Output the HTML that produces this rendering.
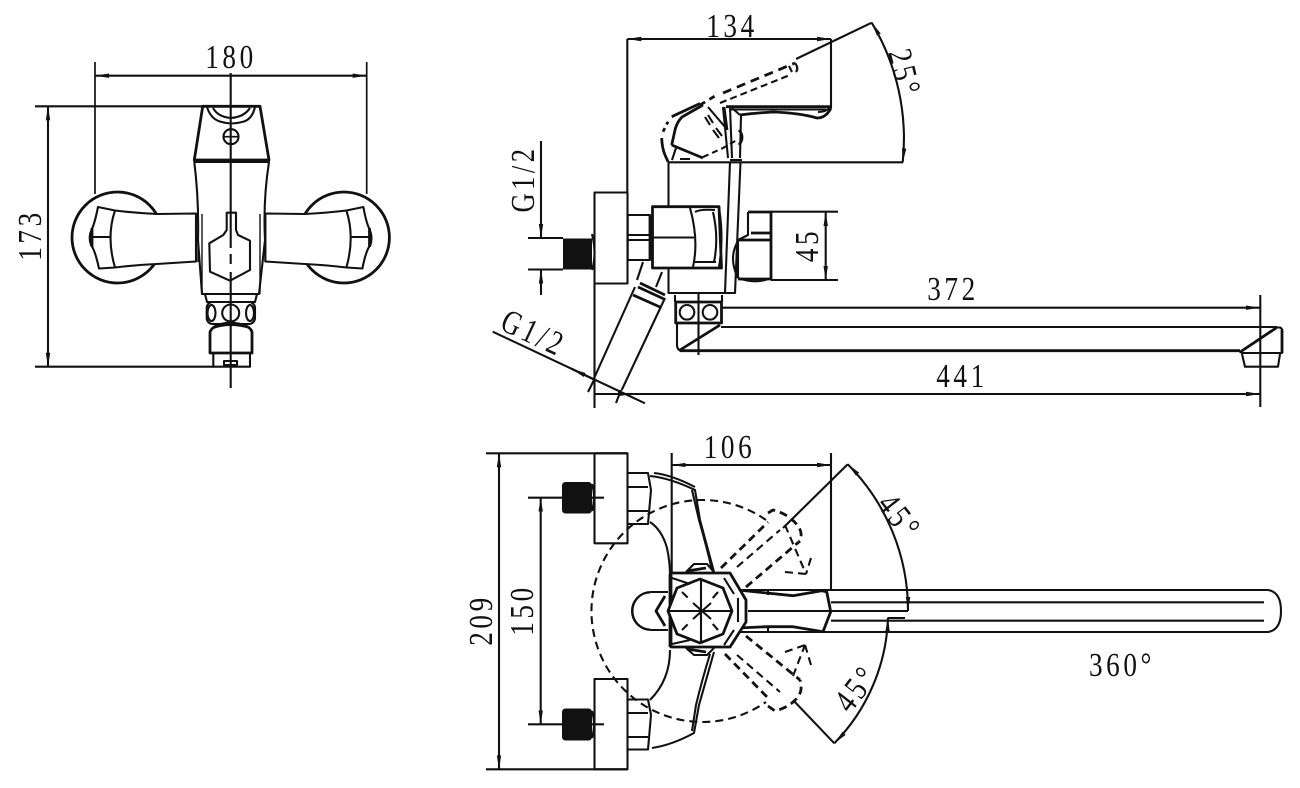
<!DOCTYPE html>
<html><head><meta charset="utf-8"><style>
html,body{margin:0;padding:0;background:#fff;width:1300px;height:788px;overflow:hidden}
svg{display:block}
text{font-family:"Liberation Serif",serif;font-size:34px;fill:#111;stroke:none;text-anchor:middle;letter-spacing:4.5px}
.t{stroke-width:2.8}.m{stroke-width:2.1}.d{stroke-dasharray:8 5}.w{fill:#fff}
</style></head><body>
<svg width="1300" height="788" viewBox="0 0 1300 788" xmlns="http://www.w3.org/2000/svg">
<defs><marker id="a" markerUnits="userSpaceOnUse" markerWidth="14" markerHeight="6" refX="14" refY="3" orient="auto-start-reverse"><path d="M0,.8 L14,3 L0,5.2z" fill="#111"/></marker></defs>
<rect width="1300" height="788" fill="#fff"/>
<g fill="none" stroke="#111" stroke-width="1.7" stroke-linejoin="round" stroke-linecap="butt">

<!-- TOP LEFT VIEW -->
<circle cx="117.5" cy="237.5" r="45.5" class="t"/>
<circle cx="343.9" cy="237.5" r="45.5" class="t"/>
<path class="m w" d="M98,207 L115,210.5 Q135,213 156.7,214 L196,213.5 L196,261.5 L156.7,264 Q135,265 115,267.5 L99,268.5 Q95,250 91,245 Q88,237 92,229 Q95,222 98,207Z"/>
<path class="m" d="M115,210.5 Q106,237 115,267.5M91,237H110"/>
<path class="t" d="M92,228V247"/>
<path class="m w" d="M363.4,207 L346.4,210.5 Q326,213 304.7,214 L265.4,213.5 L265.4,261.5 L304.7,264 Q326,265 346.4,267.5 L362.4,268.5 Q366,250 370.4,245 Q373,237 369.4,229 Q366,222 363.4,207Z"/>
<path class="m" d="M346.4,210.5 Q355,237 346.4,267.5M370.4,237H351.4"/>
<path class="t" d="M369.5,228V247"/>
<path d="M95,62V194M366.7,62V194"/>
<path class="m" d="M95,75.7H366.7" marker-start="url(#a)" marker-end="url(#a)"/>
<path class="m" d="M35,106.3H203M35,366.7H214"/>
<path class="m" d="M48,106.3V366.7" marker-start="url(#a)" marker-end="url(#a)"/>
<path class="m w" d="M194.3,162 H269 Q263,200 265,240 L259,294 H202 L198,240 Q199,200 194.3,162Z"/>
<path d="M198,214V262M202,214V294M265,214V262M260,214V294" stroke-width="1.4"/>
<path class="t w" d="M202.7,106.3H260L269,160H194.3Z"/>
<path class="m" d="M207,107Q211,120 222,122Q231,125 242,122Q252,120 255,107M213,108Q218,117 231,118Q244,117 250,108"/>
<circle cx="231" cy="136.7" r="7.5" class="m"/><path d="M224,136.7H238"/>
<path class="m w" d="M226.7,212.7H236V230L238,235L250,240.7V270L230,280.7L210,271.7L209.3,243.3L223.3,235L226.7,230Z"/>
<path class="m" d="M205,294H257L255,302H207Z"/>
<rect class="m w" x="206.7" y="302" width="48.3" height="22" rx="6"/>
<ellipse cx="211.5" cy="313" rx="4" ry="8" class="m"/><ellipse cx="250" cy="313" rx="4" ry="8" class="m"/>
<circle cx="230.7" cy="313" r="8.5" class="m w"/>
<path class="t w" d="M210,353V332Q213,324 230,323Q250,324 252,332V353Z"/>
<path class="m" d="M213,328Q230,322 250,328"/>
<path class="m" d="M213.3,353V366.7H250V353"/><rect x="224" y="361" width="13" height="4" class="m"/>
<path class="m" d="M230.7,73V248M230.7,254V264M230.7,272V388"/>

<!-- SIDE VIEW: handle -->
<path class="m" d="M627.3,39V192"/>
<path class="m" d="M627.3,39H831" marker-start="url(#a)" marker-end="url(#a)"/>
<path class="m" d="M831,39V108"/>
<path class="m" d="M871.7,22.7L796,59"/>
<path class="m" d="M871.7,22.7A225,225 0 0 1 902.7,162.3" marker-start="url(#a)" marker-end="url(#a)"/>
<path class="m" d="M668,162.3H903"/>
<!-- lever solid -->
<path class="t" d="M726,106.7H830"/>
<path class="m" d="M730,109.5H826"/>
<path class="t" d="M740,115Q755,113 773,112Q800,113 817,118Q826,118 831,108"/>
<path class="m" d="M732,108L740,115M818,112Q826,112 829,108"/>
<!-- dome -->
<path class="t" d="M671.7,145L675,130Q677,122 682,117L703,105"/>
<path class="t" d="M671.7,145L703,158"/>
<path class="m" d="M676,148L672,160M680,159H690"/>
<path class="t" d="M671.7,116.7L700,103.5"/>
<path class="t" d="M661.7,138Q662,148 665,155L668,161.7"/>
<path class="t" stroke-dasharray="4 4" d="M663,131.7L668,121.7"/>
<path class="t" stroke-dasharray="6 5" d="M700,105L715,96"/>
<!-- raised lever dashes -->
<path class="t" stroke-dasharray="9 6" d="M723,93L795,63"/>
<path class="m" stroke-dasharray="7 4" d="M720,103L790,75"/>
<path class="m" d="M795,63Q799,68 796,72M789,66L792,72"/>
<path class="m" d="M723,107L728,158M708,107L725,127M730,107L732,158M741,115L740,158"/>
<path class="t" d="M724,107L727,130"/>
<path class="t" d="M739,130Q745,137 739,145"/>
<path class="m" d="M705,117L710,125M708,115L713,123M713,130L719,138M716,128L722,136"/>
<path class="m" stroke-dasharray="6 4" d="M703,157L723,148L737,140"/>
<path class="m" d="M730,160H742"/>
<!-- side body -->
<path class="m" d="M668.5,162V293H735L740.5,162M730,162L725,293"/>
<rect class="m w" x="594.5" y="192.5" width="33" height="91"/>
<path class="m" d="M594.5,283V408"/>
<path class="m w" d="M627.7,215H650V260H627.7Z"/>
<path class="m" d="M627.7,235H650M627.7,240H650"/>
<path class="t" d="M650,216V260"/>
<path class="t w" d="M652.5,206.7H719L721.5,268H652.5Z"/>
<path class="m" d="M653,237.5H694M690,208Q699,240 693,267M695,212Q700,209 715,210M695,262H716M713,212Q719,238 714,262M719,208Q724,238 719,267"/>
<rect x="563" y="238.5" width="29" height="31" fill="#111" stroke="none"/>
<path d="M592,234Q597,254 592,270" class="m"/>
<path class="m" d="M528,238H563M528,269.5H563"/>
<path class="m" d="M541,141V238" marker-end="url(#a)"/><path class="m" d="M541,295V269.5" marker-end="url(#a)"/>
<path class="m" d="M748,212V235L738,240"/>
<path class="t" d="M748,212H771V279H738M738,240H770"/>
<path class="t" d="M751,233H770"/>
<path class="m" d="M738,240V278M738,241Q728,258 738,278M738,278Q755,284 768,279"/>
<path class="m" d="M771,211.7H838M771,280H838"/>
<path class="m" d="M825.7,212V280" marker-start="url(#a)" marker-end="url(#a)"/>
<!-- spout -->
<path class="m" d="M675,295L675,302M722,295V302"/>
<path class="t w" d="M675.7,302H721.5V323H675.7Z"/>
<circle cx="687" cy="312.3" r="7.3" class="m"/><circle cx="710" cy="312.3" r="7.3" class="m"/>
<path class="m" d="M698.5,293V355"/>
<path class="m" d="M721,307.7H1260" marker-end="url(#a)"/>
<path class="m" d="M721,327H1277"/>
<path class="t" d="M680,350.7H1240"/>
<path class="m" d="M677,323V346Q678,351 682,351"/>
<path class="t" d="M680,350L720,325"/>
<path class="m" d="M1240,351.7L1277,327.5H1280Q1283,329 1282,332V353H1242ZM1242,354L1245,366.7H1278L1280,354"/>
<path class="t" d="M1241,351.5L1276,328"/><path class="t" d="M1282,330V353"/>
<path class="m" d="M1260.3,295V407"/>
<path class="m" d="M594,394H1260" marker-end="url(#a)"/>
<!-- hose -->
<path class="m" d="M643,262L637,280M662,272L656,287"/>
<path class="m" d="M665,298L621.7,390M635,287L593.3,380"/>
<path class="t" d="M640,283L665,295M638,287L664,299M633,295L660,307"/>
<path class="m" d="M492.7,331.7L645,403.3"/>
<path class="m" d="M594,380L588,392M621,390L616,403"/>
<path class="m" d="M572,369L593,379M594,394H607" marker-start="url(#a)"/>
<path class="m" d="M632,394H618" marker-start="url(#a)"/>

<!-- BOTTOM VIEW -->
<path class="m" d="M486,453.3H627M486,769.3H627"/>
<path class="m" d="M499,453.3V769.3" marker-start="url(#a)" marker-end="url(#a)"/>
<path class="m" d="M528,497.7H604M528,724.3H604"/>
<path class="m" d="M540.7,497.7V724.3" marker-start="url(#a)" marker-end="url(#a)"/>
<rect x="562" y="482" width="30" height="31.5" rx="3.5" fill="#111" stroke="none"/>
<rect x="562" y="708.5" width="30" height="32" rx="3.5" fill="#111" stroke="none"/>
<path class="m" d="M592,484Q596,497 592,511M592,711Q596,724 592,738"/>
<rect class="m" x="594.5" y="453.3" width="33" height="90"/>
<rect class="m" x="594.5" y="679" width="33" height="90.3"/>
<path class="m" d="M628,473H648L651,490L648,524H628M628,487H648M628,511H648M628,699.5H648L651,715L648,749.5H628M628,713H648M628,737H648"/>
<path class="m" d="M671.7,453V575M831,453V590"/>
<path class="m" d="M671.7,465H831" marker-start="url(#a)" marker-end="url(#a)"/>
<path class="m" d="M650,476Q670,478 695,490L700,520Q708,550 714,572M654,473Q672,475 695,487"/>
<path class="m" d="M692,490L699,520Q707,548 712,570"/>
<path class="m" d="M650,522Q662,530 667,548Q670,562 670,575M670,650Q670,680 650,700"/>
<path class="m" d="M714,652Q706,680 699,705L694,733Q672,745 652,748M710,654Q702,680 696,705L692,731"/>
<!-- dashed circle -->
<path class="m d" d="M766,520A111,111 0 0 0 701,500A111,111 0 1 0 766,702"/>
<!-- lever -->
<path class="m" d="M738,590H1268Q1281,592 1281,611Q1281,630 1268,632H738"/>
<path class="m" d="M831,602.3H1264M831,620.7H1264M748,611H908"/>
<path class="t w" d="M738,590L766.7,593L793,595.7L821.7,590.7L826.7,591.7L830.7,611.7L823,631.7L793,626.7L766.7,626.7L738,628"/>
<path class="m" d="M748,611H830"/>
<path class="m" d="M768,590V595M768,627V632"/>
<!-- hub -->
<path class="m w" d="M668,592H651A19,19 0 0 0 651,630H668"/>
<path class="m" d="M650,592.5A17.5,18.5 0 0 0 650,629.5"/>
<path class="t" d="M665,596L656,611L665,626"/>
<path class="t" d="M670,574V647"/>
<path class="t w" d="M671,573H730L746,600V622L730,647H671Z"/>
<path class="m" d="M686,572L694,564H707L714,572M686,648L694,655H707L714,648"/>
<path class="t" d="M687,571L706,568M687,649L706,652"/>
<path class="t w" d="M700,579L723,588L732,611L723,634L700,643L677,634L668,611L677,588Z"/>
<path class="m" d="M672,578L690,584M724,578L734,594M738,598V622M734,630L724,645M672,644L690,640"/>
<path class="m" d="M668,611H732M701,580V643"/>
<path class="m" d="M693,603L711,619M693,619L711,603"/>
<path class="m d" stroke-dasharray="9 5" d="M682,592L690,600M718,592L711,600M682,630L690,622M718,630L711,622"/>
<!-- dashed handles -->
<path class="t d" d="M721,568L768,522M746,587L800,541"/>
<path class="m d" d="M737,567L780,530"/>
<path class="t d" stroke-dasharray="7 4" d="M768,513L773,510Q789,514 798,526Q803,533 800,541"/>
<path class="m" d="M847.7,464.3L783,528"/>
<path class="m" d="M847.7,464.3A207,207 0 0 1 908,611" marker-start="url(#a)" marker-end="url(#a)"/>
<path class="m d" stroke-dasharray="6 4" d="M785,525L806,574M785,572L806,574M811,558L806,574"/>
<path class="t d" d="M725,654L768,698M746,636L800,680"/>
<path class="m d" d="M737,655L780,692"/>
<path class="t d" stroke-dasharray="7 4" d="M768,706L775,711Q790,707 798,697Q803,690 800,680"/>
<path class="m" d="M834.3,743.3L793,700"/>
<path class="m" d="M888,617.5A188,188 0 0 1 834.3,743.3" marker-start="url(#a)" marker-end="url(#a)"/>
<path class="m d" stroke-dasharray="6 4" d="M785,652L805,645M811,665L805,645M793,676L805,645"/>
<path class="m" d="M888,618H905"/>
</g>

<!-- TEXT -->
<g transform="translate(231,68) scale(.8,1)"><text>180</text></g>
<g transform="translate(41,235) rotate(-90) scale(.8,1)"><text>173</text></g>
<g transform="translate(732,37) scale(.8,1)"><text>134</text></g>
<g transform="translate(894,76) rotate(76) scale(.8,1)"><text>25°</text></g>
<g transform="translate(534,179) rotate(-90) scale(.78,1)"><text>G1/2</text></g>
<g transform="translate(818,245) rotate(-90) scale(.8,1)"><text>45</text></g>
<g transform="translate(953,300) scale(.8,1)"><text>372</text></g>
<g transform="translate(962,387) scale(.8,1)"><text>441</text></g>
<g transform="translate(529,343) rotate(25) scale(.78,1)"><text>G1/2</text></g>
<g transform="translate(492,620) rotate(-90) scale(.8,1)"><text>209</text></g>
<g transform="translate(533,610) rotate(-90) scale(.8,1)"><text>150</text></g>
<g transform="translate(729.5,458) scale(.8,1)"><text>106</text></g>
<g transform="translate(891,524) rotate(52) scale(.8,1)"><text>45°</text></g>
<g transform="translate(865,695) rotate(-52) scale(.8,1)"><text>45°</text></g>
<g transform="translate(1122,676) scale(.8,1)"><text>360°</text></g>
</svg>
</body></html>
